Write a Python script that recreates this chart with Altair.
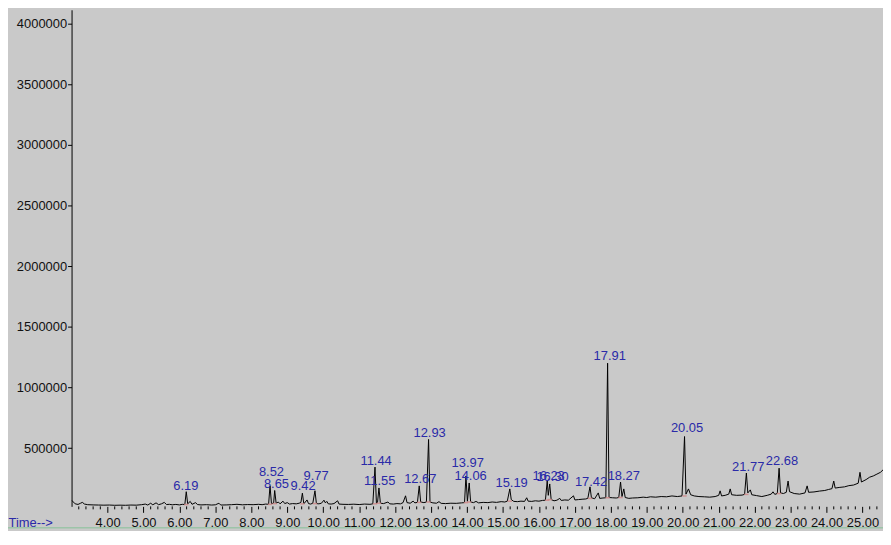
import altair as alt
import pandas as pd

# ---- chromatogram trace (time in min, abundance in counts/1000) ----
trace_time = [
    3.00, 3.05, 3.10, 3.18, 3.25, 3.30, 3.36, 3.45, 3.60, 3.75, 3.90, 4.05, 4.20, 4.35, 4.50,
    4.65, 4.80, 4.95, 5.05, 5.12, 5.20, 5.26, 5.35, 5.42, 5.50, 5.58, 5.64, 5.72, 5.80, 5.90,
    6.00, 6.08, 6.15, 6.19, 6.23, 6.30, 6.35, 6.45, 6.50, 6.60, 6.75, 6.90, 7.00, 7.10, 7.15,
    7.30, 7.45, 7.60, 7.75, 7.90, 8.05, 8.20, 8.30, 8.40, 8.48, 8.52, 8.56, 8.62, 8.65, 8.69,
    8.75, 8.80, 8.88, 8.93, 9.00, 9.06, 9.15, 9.25, 9.33, 9.38, 9.42, 9.46, 9.55, 9.59, 9.65,
    9.71, 9.77, 9.81, 9.88, 9.95, 10.02, 10.06, 10.10, 10.14, 10.22, 10.30, 10.40, 10.44, 10.55,
    10.70, 10.85, 11.00, 11.15, 11.30, 11.38, 11.44, 11.48, 11.51, 11.55, 11.59, 11.68, 11.80,
    11.85, 11.95, 12.05, 12.15, 12.22, 12.29, 12.33, 12.42, 12.50, 12.55, 12.62, 12.67, 12.71,
    12.80, 12.87, 12.93, 12.97, 13.05, 13.15, 13.22, 13.28, 13.40, 13.55, 13.70, 13.85, 13.93,
    13.97, 14.01, 14.06, 14.10, 14.18, 14.25, 14.32, 14.45, 14.58, 14.70, 14.82, 14.95, 15.05,
    15.12, 15.19, 15.23, 15.30, 15.40, 15.50, 15.60, 15.66, 15.70, 15.80, 15.90, 16.00, 16.10,
    16.18, 16.23, 16.26, 16.30, 16.34, 16.42, 16.50, 16.58, 16.62, 16.72, 16.82, 16.96, 17.00,
    17.10, 17.20, 17.30, 17.36, 17.42, 17.46, 17.55, 17.65, 17.69, 17.78, 17.86, 17.91, 17.95,
    18.05, 18.15, 18.22, 18.27, 18.31, 18.36, 18.40, 18.50, 18.60, 18.75, 18.90, 19.00, 19.10,
    19.25, 19.40, 19.55, 19.70, 19.85, 19.98, 20.05, 20.09, 20.16, 20.22, 20.32, 20.45, 20.60,
    20.75, 20.90, 21.00, 21.04, 21.08, 21.18, 21.28, 21.32, 21.36, 21.50, 21.65, 21.72, 21.77,
    21.81, 21.88, 21.92, 22.05, 22.20, 22.35, 22.46, 22.51, 22.56, 22.63, 22.68, 22.72, 22.80,
    22.88, 22.93, 22.97, 23.10, 23.25, 23.40, 23.46, 23.50, 23.65, 23.80, 23.95, 24.05, 24.15,
    24.20, 24.24, 24.35, 24.50, 24.62, 24.75, 24.88, 24.93, 24.97, 25.10, 25.20, 25.30, 25.40,
    25.50, 25.57,
]
trace_k = [
    70, 55, 40, 35, 45, 52, 38, 33, 31, 30, 29, 30, 28, 29, 28,
    30, 29, 33, 38, 30, 45, 32, 48, 33, 40, 52, 34, 36, 32, 35,
    31, 36, 34, 140, 40, 60, 36, 50, 34, 31, 33, 30, 32, 45, 30,
    31, 33, 36, 32, 34, 33, 36, 33, 38, 36, 188, 42, 45, 150, 45,
    55, 40, 62, 42, 50, 38, 42, 40, 45, 52, 128, 40, 72, 42, 38,
    45, 148, 42, 40, 45, 70, 48, 60, 40, 38, 42, 65, 38, 36,
    35, 37, 34, 38, 36, 40, 343, 45, 50, 171, 45, 42, 55,
    40, 38, 42, 40, 50, 106, 50, 45, 62, 48, 52, 188, 55,
    50, 55, 571, 55, 48, 45, 58, 44, 42, 45, 44, 48, 50,
    270, 60, 212, 55, 50, 60, 48, 52, 50, 55, 52, 58, 55,
    62, 163, 75, 60, 58, 62, 60, 90, 62, 60, 65, 62, 68,
    70, 228, 110, 204, 75, 65, 70, 85, 68, 72, 70, 106, 72,
    75, 78, 80, 85, 180, 90, 82, 130, 85, 88, 90, 1200, 92,
    90, 88, 92, 220, 100, 163, 92, 85, 88, 90, 95, 92, 98,
    95, 100, 98, 105, 100, 105, 595, 120, 163, 115, 105, 100, 98,
    95, 100, 110, 147, 105, 110, 120, 163, 115, 110, 112, 118, 294,
    130, 155, 115, 108, 100, 110, 120, 139, 118, 125, 334, 130, 125,
    135, 228, 140, 125, 120, 130, 188, 135, 138, 145, 150, 158, 165,
    228, 170, 175, 180, 190, 195, 210, 300, 220, 240, 260, 270, 285,
    300, 320,
]

# ---- labelled peaks ----
peak_rt = ["6.19", "8.52", "8.65", "9.42", "9.77", "11.44", "11.55", "12.67", "12.93", "13.97",
           "14.06", "15.19", "16.23", "16.30", "17.42", "17.91", "18.27", "20.05", "21.77", "22.68"]
label_time = [6.18, 8.56, 8.70, 9.44, 9.80, 11.47, 11.57, 12.70, 12.96, 14.02,
              14.10, 15.24, 16.27, 16.38, 17.45, 17.97, 18.36, 20.12, 21.82, 22.76]
label_k = [188, 302, 204, 188, 269, 392, 228, 245, 628, 375,
           269, 212, 269, 261, 220, 1256, 269, 669, 343, 392]
base_k = [34, 36, 42, 40, 42, 40, 45, 52, 55, 50,
          55, 62, 70, 75, 85, 90, 92, 105, 118, 125]

y_ticks = [500000, 1000000, 1500000, 2000000, 2500000, 3000000, 3500000, 4000000]
x_ticks = list(range(4, 26))
minor_ticks = [round(3.2 + 0.2 * i, 1) for i in range(112)]
minor_ticks = [m for m in minor_ticks if abs(m - round(m)) > 1e-6 and m <= 25.5]

BLUE = "#2a2aa8"
FONT = "Liberation Sans"

trace_df = pd.DataFrame({"t": trace_time, "s": [v * 1000 for v in trace_k]})
label_df = pd.DataFrame({"t": label_time, "s": [v * 1000 for v in label_k], "txt": peak_rt})
base_df = pd.DataFrame({
    "t": [float(r) - 0.06 for r in peak_rt],
    "t2": [float(r) + 0.06 for r in peak_rt],
    "s": [v * 1000 for v in base_k],
})
minor_df = pd.DataFrame({"t": minor_ticks})

xs = alt.Scale(domain=[3.0, 25.57], nice=False, zero=False)
ys = alt.Scale(domain=[19000, 4115000], nice=False, zero=False)

x_axis = alt.Axis(
    values=x_ticks, format=".2f", domain=False, grid=False,
    tickSize=6, tickColor="black", tickWidth=1,
    labelFontSize=13, labelFont=FONT, labelColor="#111111", labelPadding=4,
    labelFlush=False, labelOverlap=False,
    title="Time-->", titleColor=BLUE, titleFont=FONT, titleFontSize=13,
    titleFontWeight="normal", titleX=-64, titleY=10, titleAlign="left",
    titleBaseline="top", titleAnchor="start")
y_axis = alt.Axis(
    values=y_ticks, format="d", grid=False, domain=True, domainColor="black",
    domainWidth=1, tickSize=4, tickColor="black", labelFontSize=13, labelFont=FONT,
    labelColor="#111111", labelPadding=1, labelOverlap=False, title=None)

trace = alt.Chart(trace_df).mark_line(color="black", strokeWidth=1, clip=True).encode(
    x=alt.X("t:Q", scale=xs, axis=x_axis),
    y=alt.Y("s:Q", scale=ys, axis=y_axis),
)

baselines = alt.Chart(base_df).mark_rule(color="#d08a8a", strokeWidth=1.5, opacity=0.85).encode(
    x=alt.X("t:Q", scale=xs, axis=x_axis),
    x2="t2:Q",
    y=alt.Y("s:Q", scale=ys, axis=y_axis),
)

labels = alt.Chart(label_df).mark_text(
    color=BLUE, fontSize=13, font=FONT, align="center", baseline="middle"
).encode(
    x=alt.X("t:Q", scale=xs, axis=x_axis),
    y=alt.Y("s:Q", scale=ys, axis=y_axis),
    text="txt:N",
)

minor = alt.Chart(minor_df).mark_rule(color="black", strokeWidth=1).encode(
    x=alt.X("t:Q", scale=xs, axis=x_axis),
    y=alt.value(500),
    y2=alt.value(503),
)

frame = alt.Chart(pd.DataFrame({"a": [0]})).mark_rule(
    color="#9cc4a8", strokeWidth=1.5, clip=False
).encode(x=alt.value(-64), x2=alt.value(817), y=alt.value(521.5))

chart = alt.layer(trace, baselines, minor, labels, frame).properties(
    width=817, height=500,
    padding={"left": 64, "top": 0, "right": 0, "bottom": 23},
    autosize=alt.AutoSizeParams(type="none"),
    background="#c9c9c9",
).configure_view(stroke=None)

chart.save("out.html", embed_options={"renderer": "svg", "actions": False})
